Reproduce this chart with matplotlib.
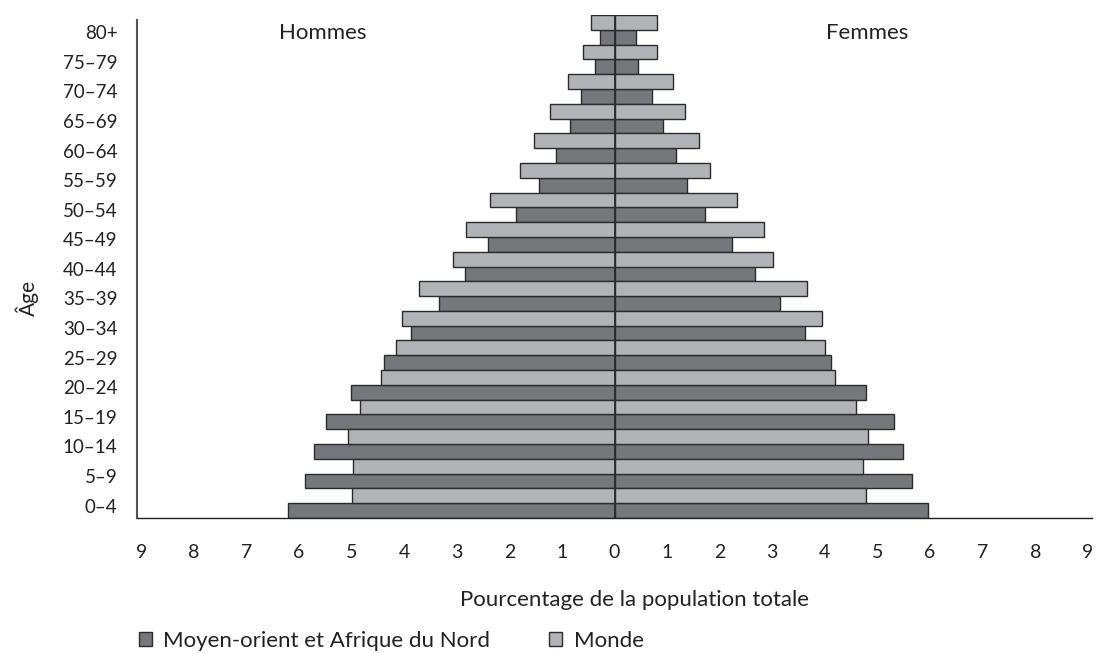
import matplotlib
matplotlib.use("Agg")
import matplotlib.pyplot as plt
from matplotlib.patches import Patch

plt.rcParams['font.family'] = ['Lato', 'DejaVu Sans']

ages = ["0–4", "5–9", "10–14", "15–19", "20–24", "25–29", "30–34", "35–39",
        "40–44", "45–49", "50–54", "55–59", "60–64", "65–69", "70–74", "75–79", "80+"]

# percentages, ordered from 0–4 to 80+
mena_hommes  = [6.20, 5.89, 5.72, 5.49, 5.01, 4.39, 3.87, 3.34, 2.85, 2.41, 1.88, 1.44, 1.12, 0.855, 0.63, 0.37, 0.285]
monde_hommes = [5.00, 4.97, 5.06, 4.84, 4.44, 4.16, 4.04, 3.71, 3.07, 2.83, 2.36, 1.79, 1.53, 1.22, 0.89, 0.59, 0.44]
mena_femmes  = [5.97, 5.66, 5.48, 5.32, 4.78, 4.12, 3.63, 3.15, 2.67, 2.23, 1.73, 1.38, 1.16, 0.93, 0.72, 0.45, 0.40]
monde_femmes = [4.78, 4.73, 4.82, 4.60, 4.20, 4.00, 3.94, 3.67, 3.01, 2.84, 2.33, 1.82, 1.60, 1.35, 1.11, 0.81, 0.80]

xticks = [-9, -8, -7, -6, -5, -4, -3, -2, -1, 0, 1, 2, 3, 4, 5, 6, 7, 8, 9]

c_mena = "#76777b"
c_monde = "#b2b3b7"
edge = "#2b2b2b"
txt = "#222222"

W, H = 1099, 653
fig = plt.figure(figsize=(W / 100, H / 100), dpi=100)
ax = fig.add_axes([137 / W, 1 - 518 / H, (1092 - 137) / W, (518 - 15) / H])

y = list(range(len(ages)))
h = 0.5
y_mena = [v - 0.25 for v in y]
y_monde = [v + 0.25 for v in y]

ax.barh(y_mena, [-v for v in mena_hommes], height=h, color=c_mena, edgecolor=edge, linewidth=1.0)
ax.barh(y_mena, mena_femmes, height=h, color=c_mena, edgecolor=edge, linewidth=1.0)
ax.barh(y_monde, [-v for v in monde_hommes], height=h, color=c_monde, edgecolor=edge, linewidth=1.0)
ax.barh(y_monde, monde_femmes, height=h, color=c_monde, edgecolor=edge, linewidth=1.0)

ax.axvline(0, color="#2b2b2b", linewidth=1.3, zorder=5)

ax.set_xlim(-9.08, 9.08)
ax.set_ylim(-0.5, 16.5)
ax.set_xticks(xticks)
ax.set_xticklabels([str(abs(t)) for t in xticks], fontsize=14, color=txt)
ax.set_yticks([v - 0.08 for v in y])
ax.set_yticklabels(ages, fontsize=13.5, color=txt)
ax.tick_params(axis="both", length=0)
ax.tick_params(axis="x", pad=19)
ax.tick_params(axis="y", pad=14)

for s in ["top", "right"]:
    ax.spines[s].set_visible(False)
ax.spines["left"].set_color("#555555")
ax.spines["left"].set_linewidth(1.5)
ax.spines["left"].set_bounds(-0.5, 16.33)
ax.spines["bottom"].set_color("#222222")
ax.spines["bottom"].set_linewidth(1.0)

ax.text(-5.55, 15.9, "Hommes", ha="center", va="center", fontsize=16, color=txt)
ax.text(4.81, 15.9, "Femmes", ha="center", va="center", fontsize=16, color=txt)

ax.set_xlabel("Pourcentage de la population totale", fontsize=16, color=txt)
ax.xaxis.set_label_coords((635 - 137) / 955, 1 - (600 - 15) / 503)
ax.xaxis.label.set_va("center")
ax.set_ylabel("Âge", fontsize=15, color=txt)
ax.yaxis.set_label_coords((27 - 137) / 955, 1 - (298 - 15) / 503)
ax.yaxis.label.set_va("center")

handles = [Patch(facecolor=c_mena, edgecolor=edge, linewidth=1.0, label="Moyen-orient et Afrique du Nord"),
           Patch(facecolor=c_monde, edgecolor=edge, linewidth=1.0, label="Monde")]
fig.legend(handles=handles, loc="center left", bbox_to_anchor=(119 / W, 1 - 641 / H), ncol=2,
           frameon=False, fontsize=16, handlelength=0.6, handleheight=0.6,
           handletextpad=0.5, columnspacing=2.64, labelcolor=txt)

fig.savefig("out.png", dpi=100)
